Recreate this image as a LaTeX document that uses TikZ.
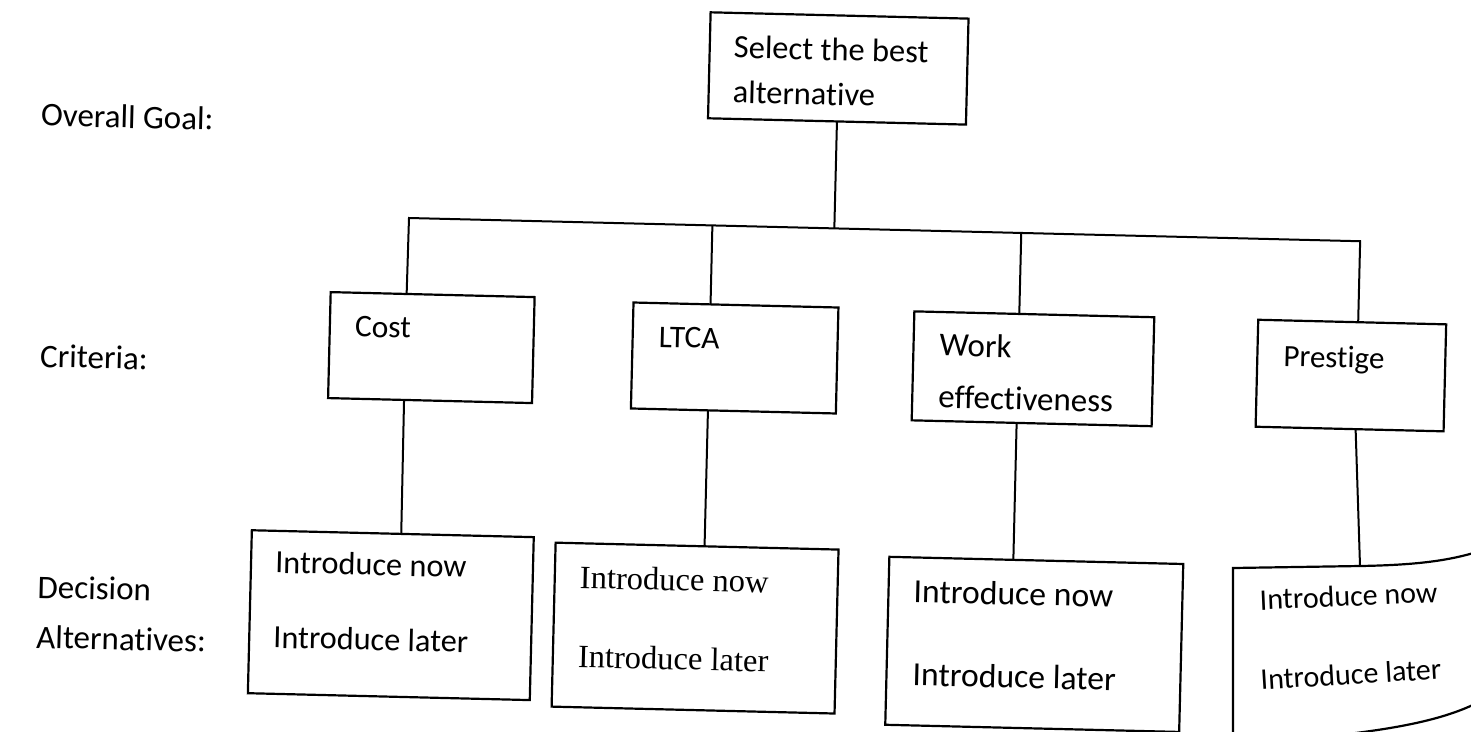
\documentclass[tikz,border=0pt]{standalone}
\usepackage{fontspec}
\setmainfont{Carlito}[Ligatures={NoCommon}]
\newfontfamily\timesfont{Liberation Serif}
\usetikzlibrary{calc}
\begin{document}
\begin{tikzpicture}[x=1pt,y=-1pt,
  box/.style={draw, line width=2.2pt, anchor=north west, inner sep=0pt, outer sep=0pt},
  conn/.style={line width=2pt, line join=miter},
  txt/.style={anchor=base west, inner sep=0pt, font=\fontsize{#1}{#1}\selectfont},
  txt/.default=32,
  serif/.style={anchor=base west, inner sep=0pt, font=\timesfont\fontsize{32.5}{33}\selectfont}]
\fill[white] (0,0) rectangle (1471,731);
\useasboundingbox (0,0) rectangle (1471,731);
\begin{scope}[rotate around={-1.4:(735,365)}, transform shape]
  % boxes
  \node[box, minimum width=258pt, minimum height=106pt] (goal) at (702,13) {};
  \node[box, minimum width=204pt, minimum height=106pt] (cost) at (329,302) {};
  \node[box, minimum width=205pt, minimum height=106pt] (ltca) at (632,305) {};
  \node[box, minimum width=240pt, minimum height=109pt] (work) at (913,307) {};
  \node[box, minimum width=188pt, minimum height=107pt] (pres) at (1257,307) {};
  \node[box, minimum width=282pt, minimum height=163pt] (costalt) at (256,542) {};
  \node[box, minimum width=283pt, minimum height=164pt] (ltcaalt) at (560,547) {};
  \node[box, minimum width=294pt, minimum height=168pt] (workalt) at (894,553) {};
  % texts
  \node[txt=32.5] (g1) at (726,58) {Select the best};
  \node[txt=32.5] (g2) at (726,103) {alternative};
  \node[txt=31.5] (t1) at (354,346) {Cost};
  \node[txt=31.5] (t2) at (658,349) {LTCA};
  \node[txt=33] (t3a) at (939,351) {Work};
  \node[txt=33] (t3b) at (939,403) {effectiveness};
  \node[txt=31] (t4) at (1283,353) {Prestige};
  \node[txt=32.3] (a1) at (280,584) {Introduce now};
  \node[txt=32.3] (a2) at (280,659) {Introduce later};
  \node[serif] (b1) at (585,592) {Introduce now};
  \node[serif] (b2) at (585,671) {Introduce later};
  \node[txt=33.7] (c1) at (919,598) {Introduce now};
  \node[txt=33.7] (c2) at (920,681) {Introduce later};
  % left labels
  \node[txt=33] (l1) at (35,143) {Overall Goal:};
  \node[txt=33] (l2) at (40,384) {Criteria:};
  \node[txt=33] (l3) at (43,615) {Decision};
  \node[txt=33] (l4) at (43,665) {Alternatives:};
  % connectors
  \coordinate (bL) at (405.5,226);
  \coordinate (bR) at (1357,226);
  \coordinate (jG) at (831,226);
  \coordinate (jL) at (709,226);
  \coordinate (jW) at (1018,226);
  \draw[conn] ($(cost.north west)!0.3725!(cost.north east)$) -- (bL) -- (bR)
     -- ($(pres.north west)!0.532!(pres.north east)$);
  \draw[conn] (goal.south) -- (jG);
  \draw[conn] (jL) -- ($(ltca.north west)!0.376!(ltca.north east)$);
  \draw[conn] (jW) -- ($(work.north west)!0.4375!(work.north east)$);
  \draw[conn] ($(cost.south west)!0.3725!(cost.south east)$) -- ($(costalt.north west)!0.530!(costalt.north east)$);
  \draw[conn] ($(ltca.south west)!0.376!(ltca.south east)$) -- ($(ltcaalt.north west)!0.5265!(ltcaalt.north east)$);
  \draw[conn] ($(work.south west)!0.4375!(work.south east)$) -- ($(workalt.north west)!0.422!(workalt.north east)$);
\end{scope}
% curled last alternative box (page curl)
\coordinate (paltTop) at (1360,566);
\draw[line width=2.2pt] (1477,552) .. controls (1450,560) and (1420,565) .. (paltTop)
   -- (1233,568) -- (1233,745) -- (1290,740) .. controls (1390,731) and (1440,721) .. (1477,703);
\draw[conn] ($(pres.south west)!0.532!(pres.south east)$) -- (paltTop);
\node[txt=30, rotate=2.5] (d1) at (1260,610) {Introduce now};
\node[txt=30, rotate=3.5] (d2) at (1261,690) {Introduce later};
\end{tikzpicture}
\end{document}
